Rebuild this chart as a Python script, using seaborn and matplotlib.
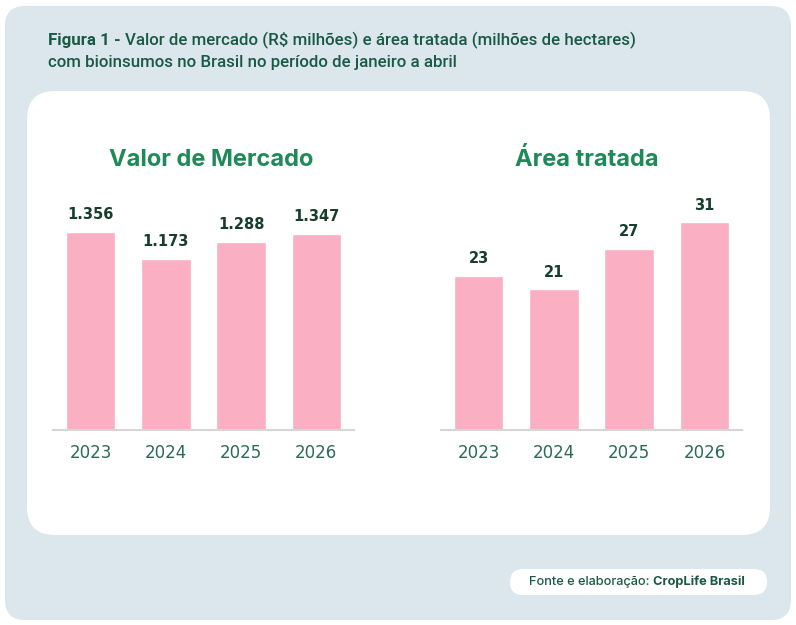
import matplotlib
matplotlib.use("Agg")
import matplotlib.pyplot as plt
from matplotlib.patches import FancyBboxPatch
import seaborn as sns
import pandas as pd

# data
anos = ["2023", "2024", "2025", "2026"]
valor_mercado = [1356, 1173, 1288, 1347]   # R$ milhoes
area_tratada = [23, 21, 27, 31]            # milhoes de hectares

W, H = 796, 625
BAR = "#FBAFC3"
PANEL = "#DCE6ED"
GREEN = "#1E8A58"
DARK = "#173D2C"
TICK = "#2A6A56"
HEAD = "#1A5A44"

sns.set_theme(style="white")
plt.rcParams["font.family"] = ["DejaVu Sans"]

fig = plt.figure(figsize=(W / 100, H / 100), dpi=100)
fig.patch.set_facecolor("white")

# background layer in pixel coordinates
bg = fig.add_axes([0, 0, 1, 1])
bg.set_xlim(0, W)
bg.set_ylim(H, 0)
bg.axis("off")


def rbox(x0, y0, x1, y1, r, color):
    p = FancyBboxPatch((x0 + r, y0 + r), (x1 - x0) - 2 * r, (y1 - y0) - 2 * r,
                       boxstyle=f"round,pad={r}", fc=color, ec="none")
    bg.add_patch(p)


rbox(5, 6, 791, 620, 20, PANEL)
rbox(27, 91, 770, 535, 28, "white")
rbox(510, 569, 767, 595, 13, "white")

fig.canvas.draw()
renderer = fig.canvas.get_renderer()


def chain(x, y, parts, size, family):
    # draw text pieces one after another on the same baseline
    for txt, weight in parts:
        t = bg.text(x, y, txt, fontsize=size, fontweight=weight, color=HEAD,
                    family=family, va="center", ha="left")
        bb = t.get_window_extent(renderer=renderer)
        x += bb.width
    return x


chain(48, 40, [("Figura 1 - ", "bold"),
               ("Valor de mercado (R$ milhões) e área tratada (milhões de hectares)", "medium")],
      12.2, "Roboto")
chain(48, 63, [("com bioinsumos no Brasil no período de janeiro a abril", "medium")], 12.2, "Roboto")
chain(529, 582, [("Fonte e elaboração: ", "medium"), ("CropLife Brasil", "bold")], 9.2, "Inter")


def painel(left, titulo, valores, ytop, fmt, title_x):
    ax = fig.add_axes([left / W, (H - 430) / H, 301 / W, 250 / H])
    df = pd.DataFrame({"ano": anos, "valor": valores})
    sns.barplot(data=df, x="ano", y="valor", color=BAR, width=0.66,
                saturation=1, ax=ax)
    ax.set_xlim(-0.5, 3.5)
    ax.set_ylim(0, ytop)
    ax.set_facecolor("none")
    ax.set_xlabel("")
    ax.set_ylabel("")
    ax.set_yticks([])
    for s in ["top", "left", "right"]:
        ax.spines[s].set_visible(False)
    ax.spines["bottom"].set_color("#D6D6D6")
    ax.spines["bottom"].set_linewidth(1.5)
    ax.tick_params(axis="x", length=0, pad=10, labelsize=12, labelcolor=TICK)
    ax.bar_label(ax.containers[0], labels=[fmt(v) for v in valores],
                 padding=7, fontsize=10.5, fontweight="bold", color=DARK)
    bg.text(title_x, 160, titulo, fontsize=17, fontweight="bold", color=GREEN,
            family="Inter", ha="center", va="center")
    return ax


painel(53, "Valor de Mercado", valor_mercado, 1714,
       lambda v: f"{v:,}".replace(",", "."), 211)
painel(441, "Área tratada", area_tratada, 37.3, lambda v: str(v), 587)

fig.savefig("out.png", dpi=100, facecolor="white")
